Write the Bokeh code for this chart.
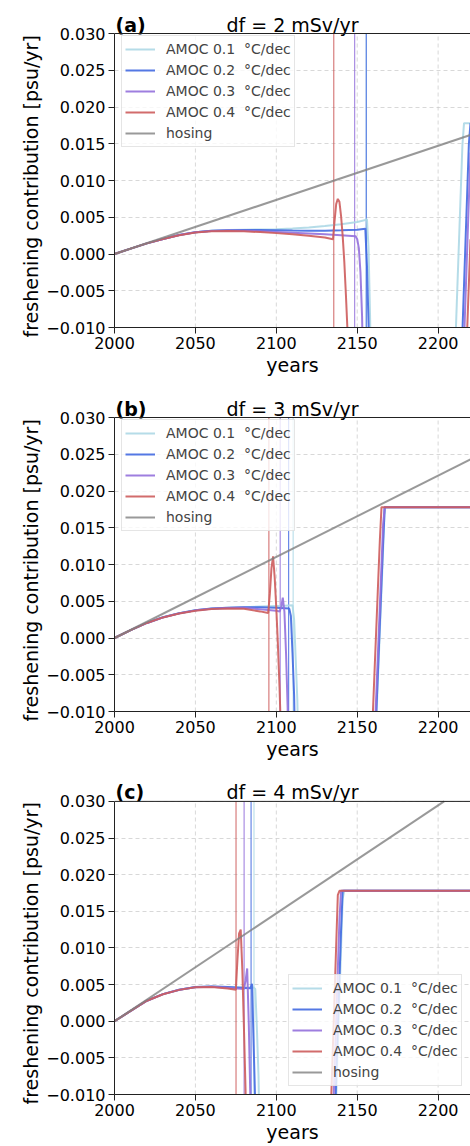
from bokeh.plotting import figure
from bokeh.models import Span, CustomJSTickFormatter, FixedTicker, Range1d, Title
from bokeh.core.properties import value
from bokeh.layouts import column
from bokeh.embed import file_html
from bokeh.resources import INLINE

FONT = "DejaVu Sans"

# ---------------- data ----------------
series_labels = ["AMOC 0.1\u00a0 \u00b0C/dec", "AMOC 0.2\u00a0 \u00b0C/dec",
                 "AMOC 0.3\u00a0 \u00b0C/dec", "AMOC 0.4\u00a0 \u00b0C/dec"]
series_colors = ["#add8e6", "#4169e1", "#9370db", "#cd5c5c"]

panel_tags = ["(a)", "(b)", "(c)"]
panel_titles = ["df = 2 mSv/yr", "df = 3 mSv/yr", "df = 4 mSv/yr"]
x_label = "years"
y_label = "freshening contribution [psu/yr]"

hosing_years = [2000, 2220]
hosing_a = [0.0, 0.0162]
hosing_b = [0.0, 0.0243]
hosing_c = [0.0, 0.0324]

# tipping years (vertical lines): 0.1, 0.2, 0.3, 0.4 degC/dec
tips_a = [2155.6, 2155.6, 2148.4, 2135.5]
tips_b = [2110.4, 2107.6, 2102.4, 2095.4]
tips_c = [2086.2, 2084.4, 2080.1, 2075.1]

# ---- panel (a): df = 2 mSv/yr ----
a1_x = [2000, 2010, 2020, 2030, 2040, 2050, 2060, 2070, 2080, 2090, 2100, 2110, 2120, 2130, 2140, 2150, 2155, 2156, 2157, 2158, 2159,
        2210, 2211, 2212, 2213, 2214, 2215, 2216, 2220]
a1_y = [0.0, 0.00073, 0.00145, 0.00205, 0.00258, 0.00295, 0.00316, 0.00326, 0.00331, 0.00334, 0.00338, 0.00346, 0.00360, 0.00380, 0.00405, 0.00435, 0.00462, 0.00475, 0.0008, -0.0092, -0.030,
        -0.016, -0.0100, -0.0038, 0.0024, 0.0086, 0.0148, 0.0178, 0.0178]
a2_x = [2000, 2010, 2020, 2030, 2040, 2050, 2060, 2070, 2080, 2090, 2100, 2110, 2120, 2130, 2140, 2150, 2155, 2156, 2157, 2158,
        2214, 2215, 2216, 2217, 2218, 2219, 2220]
a2_y = [0.0, 0.00073, 0.00145, 0.00205, 0.00258, 0.00295, 0.00315, 0.00324, 0.00327, 0.00326, 0.00323, 0.00320, 0.00318, 0.00318, 0.00322, 0.00330, 0.00345, -0.0015, -0.0095, -0.030,
        -0.016, -0.0106, -0.0042, 0.0022, 0.0086, 0.0150, 0.0178]
a3_x = [2000, 2010, 2020, 2030, 2040, 2050, 2060, 2070, 2080, 2090, 2100, 2110, 2120, 2130, 2140, 2149, 2150, 2151, 2152, 2153, 2154, 2155,
        2215, 2216, 2217, 2218, 2219, 2220]
a3_y = [0.0, 0.00073, 0.00145, 0.00205, 0.00258, 0.00295, 0.00314, 0.00320, 0.00318, 0.00310, 0.00300, 0.00290, 0.00280, 0.00268, 0.00255, 0.00242, 0.0020, 0.0008, -0.0025, -0.0085, -0.020, -0.030,
        -0.018, -0.0118, -0.0054, 0.0010, 0.0074, 0.0138]
a4_x = [2000, 2010, 2020, 2030, 2040, 2050, 2060, 2070, 2080, 2090, 2100, 2110, 2120, 2130, 2135, 2136, 2137, 2138, 2139, 2140, 2141, 2142, 2143, 2144, 2145, 2146,
        2216, 2217, 2218, 2219, 2220]
a4_y = [0.0, 0.00073, 0.00145, 0.00203, 0.00255, 0.00292, 0.00308, 0.00312, 0.00308, 0.00298, 0.00284, 0.00268, 0.00248, 0.00225, 0.00200, 0.0045, 0.0068, 0.0075, 0.0071, 0.0052, 0.0025, -0.0010, -0.0055, -0.0105, -0.020, -0.030,
        -0.022, -0.016, -0.0100, -0.0040, 0.0020]

# ---- panel (b): df = 3 mSv/yr ----
b1_x = [2000, 2010, 2020, 2030, 2040, 2050, 2060, 2070, 2080, 2090, 2100, 2105, 2110, 2111, 2112, 2113, 2114, 2115,
        2161, 2162, 2163, 2164, 2165, 2166, 2167, 2220]
b1_y = [0.0, 0.00108, 0.00205, 0.00282, 0.00337, 0.00378, 0.00400, 0.00412, 0.00420, 0.00428, 0.00436, 0.00440, 0.00445, 0.0025, -0.0030, -0.0085, -0.020, -0.030,
        -0.0155, -0.0100, -0.0045, 0.0010, 0.0065, 0.0120, 0.0178, 0.0178]
b2_x = [2000, 2010, 2020, 2030, 2040, 2050, 2060, 2070, 2080, 2090, 2100, 2108, 2109, 2110, 2111, 2112, 2113,
        2161, 2162, 2163, 2164, 2165, 2166, 2167, 2220]
b2_y = [0.0, 0.00108, 0.00205, 0.00282, 0.00337, 0.00378, 0.00400, 0.00411, 0.00418, 0.00418, 0.00412, 0.00400, 0.0030, -0.0020, -0.0078, -0.020, -0.030,
        -0.0145, -0.0090, -0.0035, 0.0020, 0.0075, 0.0130, 0.0178, 0.0178]
b3_x = [2000, 2010, 2020, 2030, 2040, 2050, 2060, 2070, 2080, 2090, 2100, 2102, 2103, 2104, 2105, 2106, 2107, 2108,
        2161, 2162, 2163, 2164, 2165, 2166, 2167, 2220]
b3_y = [0.0, 0.00108, 0.00205, 0.00281, 0.00335, 0.00376, 0.00398, 0.00408, 0.00410, 0.00392, 0.00372, 0.00360, 0.0042, 0.0055, 0.0036, -0.0020, -0.0095, -0.030,
        -0.0120, -0.0065, -0.0010, 0.0045, 0.0100, 0.0155, 0.0178, 0.0178]
b4_x = [2000, 2010, 2020, 2030, 2040, 2050, 2060, 2070, 2080, 2090, 2095, 2096, 2097, 2098, 2099, 2100, 2101, 2102, 2103, 2104,
        2158, 2159, 2160, 2161, 2162, 2163, 2164, 2165, 2220]
b4_y = [0.0, 0.00108, 0.00205, 0.00280, 0.00333, 0.00372, 0.00394, 0.00402, 0.00398, 0.00362, 0.00340, 0.0060, 0.0095, 0.0111, 0.0082, 0.0040, -0.0010, -0.0068, -0.0140, -0.030,
        -0.020, -0.0138, -0.0084, -0.0029, 0.0025, 0.0080, 0.0134, 0.0178, 0.0178]

# ---- panel (c): df = 4 mSv/yr ----
c1_x = [2000, 2010, 2020, 2030, 2040, 2050, 2060, 2070, 2080, 2086, 2087, 2088, 2089, 2090, 2091,
        2136, 2137, 2138, 2139, 2140, 2141, 2142, 2220]
c1_y = [0.0, 0.00140, 0.00280, 0.00370, 0.00430, 0.00466, 0.00474, 0.00468, 0.00462, 0.00460, 0.00440, -0.0010, -0.0075, -0.020, -0.030,
        -0.016, -0.0105, -0.0037, 0.0031, 0.0099, 0.0167, 0.0178, 0.0178]
c2_x = [2000, 2010, 2020, 2030, 2040, 2050, 2060, 2070, 2080, 2084, 2085, 2086, 2087, 2088,
        2135, 2136, 2137, 2138, 2139, 2140, 2141, 2220]
c2_y = [0.0, 0.00140, 0.00280, 0.00370, 0.00430, 0.00466, 0.00473, 0.00466, 0.00455, 0.00450, 0.0051, -0.0033, -0.0115, -0.030,
        -0.020, -0.0148, -0.0080, -0.0012, 0.0056, 0.0124, 0.0178, 0.0178]
c3_x = [2000, 2010, 2020, 2030, 2040, 2050, 2060, 2070, 2080, 2081, 2082, 2083, 2084, 2085,
        2134, 2135, 2136, 2137, 2138, 2139, 2140, 2220]
c3_y = [0.0, 0.00140, 0.00280, 0.00370, 0.00430, 0.00465, 0.00470, 0.00458, 0.00440, 0.0055, 0.0072, -0.0005, -0.0110, -0.030,
        -0.020, -0.0134, -0.0066, 0.0002, 0.0070, 0.0138, 0.0178, 0.0178]
c4_x = [2000, 2010, 2020, 2030, 2040, 2050, 2060, 2070, 2075, 2076, 2077, 2078, 2079, 2080, 2081, 2082,
        2132, 2133, 2134, 2135, 2136, 2137, 2138, 2139, 2220]
c4_y = [0.0, 0.00140, 0.00280, 0.00368, 0.00428, 0.00463, 0.00468, 0.00448, 0.00430, 0.0085, 0.0120, 0.0125, 0.0070, -0.0010, -0.0095, -0.030,
        -0.025, -0.0168, -0.0100, -0.0032, 0.0036, 0.0104, 0.0172, 0.0178, 0.0178]

x_ticks = [2000, 2050, 2100, 2150, 2200]
y_ticks = [-0.010, -0.005, 0.000, 0.005, 0.010, 0.015, 0.020, 0.025, 0.030]

# ---------------- layout constants ----------------
X0, X1 = 2000, 2220
Y0, Y1 = -0.010, 0.030
W = 470
LEFT = 114
AX_PX = 294            # pixel height of the axes box
HEAD_PX = 33           # title strip above the axes box
PX = (Y1 - Y0) / AX_PX  # data units per pixel
YTOP = Y1 + HEAD_PX * PX


def clip_top(xs, ys):
    """cut a straight line where it leaves the axes box at the top"""
    if ys[-1] <= Y1:
        return xs, ys
    t = (Y1 - ys[0]) / (ys[-1] - ys[0])
    return [xs[0], xs[0] + t * (xs[-1] - xs[0])], [ys[0], Y1]


def make_panel(tag, title, curves, tips, hosing_y, legend_loc, border_bottom):
    frame_h = AX_PX + HEAD_PX
    p = figure(width=W, height=frame_h + border_bottom,
               x_range=Range1d(X0, X1), y_range=Range1d(Y0, YTOP),
               output_backend="svg", toolbar_location=None,
               min_border_left=LEFT, min_border_right=0,
               min_border_top=0, min_border_bottom=border_bottom)
    p.background_fill_color = "white"
    p.border_fill_color = "white"
    p.outline_line_color = None

    # grid
    p.xgrid.visible = False
    p.ygrid.ticker = FixedTicker(ticks=y_ticks)
    p.ygrid.grid_line_color = "#c8c8c8"
    p.ygrid.grid_line_dash = "4 3"
    p.ygrid.grid_line_alpha = 0.7
    p.segment(x0=x_ticks, y0=[Y0] * len(x_ticks), x1=x_ticks, y1=[Y1] * len(x_ticks),
              line_color="#c8c8c8", line_dash="4 3", line_alpha=0.7, line_width=1)

    # top spine
    p.add_layout(Span(location=Y1, dimension="width", line_color="#222222", line_width=1))

    # vertical tipping lines
    p.segment(x0=tips, y0=[Y0] * len(tips), x1=tips, y1=[Y1] * len(tips),
              line_color=series_colors, line_width=1.2, line_alpha=0.8)

    for (xs, ys), c, lab in zip(curves, series_colors, series_labels):
        p.line(xs, ys, line_color=c, line_width=2, line_alpha=0.9, legend_label=lab)
    hx, hy = clip_top(hosing_years, hosing_y)
    p.line(hx, hy, line_color="#808080", line_width=2, line_alpha=0.8, legend_label="hosing")

    # axes
    p.xaxis.ticker = FixedTicker(ticks=x_ticks)
    p.yaxis.ticker = FixedTicker(ticks=y_ticks)
    p.yaxis.bounds = (Y0, Y1)
    p.yaxis.formatter = CustomJSTickFormatter(
        code="return tick.toFixed(3).replace('-', '\\u2212');")
    p.xaxis.axis_label = x_label
    for ax in (p.xaxis, p.yaxis):
        ax.axis_label_text_font = FONT
        ax.axis_label_text_font_size = "19px"
        ax.axis_label_text_font_style = "normal"
        ax.axis_label_text_color = "black"
        ax.major_label_text_font = FONT
        ax.major_label_text_font_size = "16px"
        ax.major_label_text_color = "black"
        ax.major_tick_out = 6
        ax.major_tick_in = 0
        ax.major_label_standoff = 3
        ax.minor_tick_line_color = None
        ax.axis_line_color = "#222222"
        ax.major_tick_line_color = "#222222"
    p.xaxis.axis_label_standoff = 2

    # y label as a side title, starting near the bottom of the axes box
    p.add_layout(Title(text=y_label, align="left", offset=-10,
                       text_font=FONT, text_font_size="19px", text_font_style="normal",
                       text_color="black", standoff=4), "left")

    # legend
    lg = p.legend[0]
    lg.location = legend_loc
    lg.label_text_font = FONT
    lg.label_text_font_size = "14px"
    lg.glyph_width = 30
    lg.glyph_height = 20
    lg.label_height = 20
    lg.spacing = 1
    lg.padding = 3
    lg.margin = 0
    lg.label_standoff = 11
    lg.border_line_color = "#cccccc"
    lg.background_fill_alpha = 0.8

    # panel tag and title in the strip above the axes box
    ty = Y1 + 9 * PX
    p.text(x=[X0 + 0.6], y=[ty], text=[tag], text_font=value(FONT), text_font_size="19px",
           text_font_style="bold", text_align="left", text_baseline="alphabetic",
           text_color="black")
    p.text(x=[(X0 + X1) / 2], y=[ty], text=[title], text_font=value(FONT),
           text_font_size="19px", text_align="center", text_baseline="alphabetic",
           text_color="black")
    return p


# legend positions: bottom-left corner of the box, pixels from the bottom-left of the frame
leg_upper_left = (7, 180)
leg_lower_right = (174, 8)
pa = make_panel(panel_tags[0], panel_titles[0],
                [(a1_x, a1_y), (a2_x, a2_y), (a3_x, a3_y), (a4_x, a4_y)],
                tips_a, hosing_a, leg_upper_left, 57)
pb = make_panel(panel_tags[1], panel_titles[1],
                [(b1_x, b1_y), (b2_x, b2_y), (b3_x, b3_y), (b4_x, b4_y)],
                tips_b, hosing_b, leg_upper_left, 57)
pc = make_panel(panel_tags[2], panel_titles[2],
                [(c1_x, c1_y), (c2_x, c2_y), (c3_x, c3_y), (c4_x, c4_y)],
                tips_c, hosing_c, leg_lower_right, 50)

layout = column(pa, pb, pc, spacing=0)
open("out.html", "w").write(file_html(layout, INLINE))
